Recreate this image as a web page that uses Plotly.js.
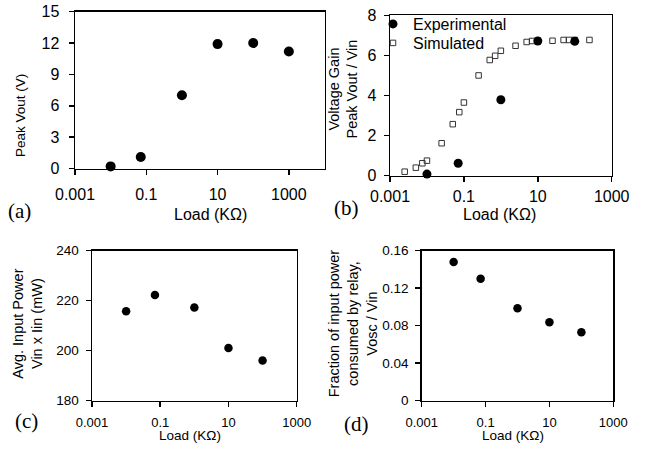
<!DOCTYPE html>
<html>
<head>
<meta charset="utf-8">
<script src="https://cdn.plot.ly/plotly-3.0.1.min.js"></script>
<style>html,body{margin:0;padding:0;background:#fff;}#chart{width:651px;height:449px;}</style>
</head>
<body>
<div id="chart"></div>
<script>
// ---- data ----
const loadTickVals = [0.001, 0.1, 10, 1000];
const loadTickText = ["0.001", "0.1", "10", "1000"];

// (a) Peak Vout vs load
const loadA = [0.01, 0.07, 1, 10, 100, 1000];
const peakVout = [0.2, 1.1, 7.0, 11.9, 12.0, 11.2];

// (b) Voltage gain, experimental and simulated
const loadExp = [0.01, 0.07, 1, 10, 100];
const gainExp = [0.08, 0.62, 3.79, 6.72, 6.7];
const loadSim = [0.0025, 0.005, 0.0075, 0.01, 0.025, 0.05, 0.075, 0.1, 0.25, 0.5, 0.7, 1, 2.5, 5, 7, 10, 25, 50, 70, 100, 250];
const gainSim = [0.2, 0.4, 0.62, 0.75, 1.62, 2.57, 3.17, 3.65, 5.0, 5.77, 5.98, 6.23, 6.48, 6.67, 6.72, 6.74, 6.73, 6.77, 6.77, 6.77, 6.77];

// (c) Average input power
const loadC = [0.01, 0.07, 1, 10, 100];
const inputPower = [215.8, 222.3, 217.3, 201.1, 196.1];

// (d) Fraction consumed by relay
const loadD = [0.01, 0.07, 1, 10, 100];
const relayFraction = [0.148, 0.130, 0.0985, 0.0836, 0.0729];

// ---- layout helpers ----
const W = 651, H = 449;
const px = x => x / W;
const py = y => 1 - y / H;
const SANS = "Liberation Sans, Arial, sans-serif";
const SERIF = "Liberation Serif, Times New Roman, serif";

function xAxis(dom, range, anchor, fs, standoff) {
  return {
    type: "log", range: range, domain: dom, anchor: anchor,
    tickvals: loadTickVals, ticktext: loadTickText,
    ticks: "outside", ticklen: 5, tickwidth: 1.5, tickcolor: "#000",
    showline: true, linewidth: 1.5, linecolor: "#000", mirror: true,
    showgrid: false, zeroline: false,
    tickfont: {family: SANS, size: fs, color: "#000"},
    ticklabelstandoff: standoff, fixedrange: true
  };
}
function yAxis(dom, range, dtick, anchor, fs, standoff) {
  return {
    range: range, domain: dom, anchor: anchor, dtick: dtick, tick0: 0,
    ticks: "outside", ticklen: 5, tickwidth: 1.5, tickcolor: "#000",
    showline: true, linewidth: 1.5, linecolor: "#000", mirror: true,
    showgrid: false, zeroline: false,
    tickfont: {family: SANS, size: fs, color: "#000"},
    ticklabelstandoff: standoff, fixedrange: true
  };
}

const dot = (size) => ({color: "#000", size: size, symbol: "circle"});

const traces = [
  {x: loadA, y: peakVout, xaxis: "x", yaxis: "y", mode: "markers",
   marker: dot(10), showlegend: false, cliponaxis: false},
  {x: loadSim, y: gainSim, xaxis: "x2", yaxis: "y2", mode: "markers", name: "Simulated",
   marker: {symbol: "square-open", size: 5.5, color: "#333", line: {width: 1, color: "#333"}},
   legend: "legend2", cliponaxis: false},
  {x: loadExp, y: gainExp, xaxis: "x2", yaxis: "y2", mode: "markers", name: "Experimental",
   marker: dot(9), legend: "legend", cliponaxis: false},
  {x: loadC, y: inputPower, xaxis: "x3", yaxis: "y3", mode: "markers",
   marker: dot(8.5), showlegend: false, cliponaxis: false},
  {x: loadD, y: relayFraction, xaxis: "x4", yaxis: "y4", mode: "markers",
   marker: dot(8.5), showlegend: false, cliponaxis: false}
];

function ann(text, x, y, size, family, angle) {
  return {text: text, x: px(x), y: py(y), xref: "paper", yref: "paper",
    xanchor: "center", yanchor: "middle", showarrow: false, textangle: angle || 0,
    font: {family: family || SANS, size: size, color: "#000"}};
}
function legendAt(x, yTop) {
  return {x: px(x), y: py(yTop), xanchor: "left", yanchor: "top",
    bgcolor: "rgba(0,0,0,0)", borderwidth: 0, itemwidth: 30,
    font: {family: SANS, size: 16, color: "#000"}};
}

const layout = {
  width: W, height: H,
  margin: {l: 0, r: 0, t: 0, b: 0},
  paper_bgcolor: "#fff", plot_bgcolor: "rgba(0,0,0,0)",
  showlegend: true,
  legend: legendAt(373, 7),
  legend2: legendAt(373, 26),
  xaxis: xAxis([px(75), px(324.5)], [-3, 4], "y", 16, 6),
  yaxis: yAxis([py(168.5), py(11.7)], [0, 15], 3, "x", 16, 6),
  xaxis2: xAxis([px(390), px(611.7)], [-3, 3], "y2", 16, 1),
  yaxis2: yAxis([py(175.7), py(15.3)], [0, 8], 2, "x2", 16, 4),
  xaxis3: xAxis([px(92), px(296.7)], [-3, 3], "y3", 13, 4),
  yaxis3: yAxis([py(400.7), py(250.7)], [180, 240], 20, "x3", 13.5, 4),
  xaxis4: xAxis([px(421.7), px(613.3)], [-3, 3], "y4", 13, 4),
  yaxis4: yAxis([py(400.7), py(250.7)], [0, 0.16], 0.04, "x4", 13.5, 4),
  annotations: [
    ann("Load (KΩ)", 210, 214, 16),
    ann("Peak Vout (V)", 20, 116, 13.5, SANS, -90),
    ann("Load (KΩ)", 499, 215, 16),
    ann("Voltage Gain<br>Peak Vout / Vin", 342.5, 89, 14.5, SANS, -90),
    ann("Load (KΩ)", 190, 435.5, 13.5),
    ann("Avg. Input Power<br>Vin x Iin (mW)", 26.7, 324, 14.5, SANS, -90),
    ann("Load (KΩ)", 513, 435.5, 13.5),
    ann("Fraction of input power<br>consumed by relay,<br>Vosc / Vin", 353.3, 323, 14.5, SANS, -90),
    ann("(a)", 19, 211, 21, SERIF),
    ann("(b)", 346.7, 208.5, 21, SERIF),
    ann("(c)", 26, 421, 21, SERIF),
    ann("(d)", 356, 424, 21, SERIF)
  ]
};

Plotly.newPlot("chart", traces, layout, {displayModeBar: false, staticPlot: true});
</script>
</body>
</html>
